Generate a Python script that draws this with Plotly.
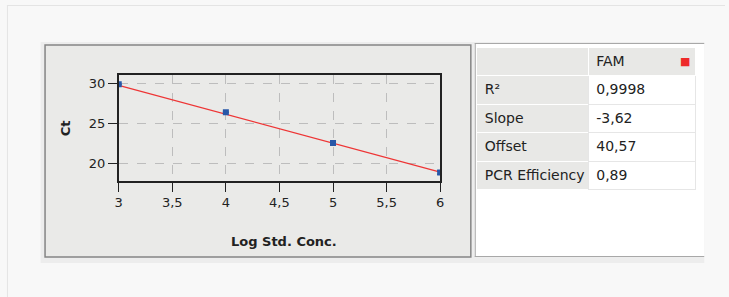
import plotly.graph_objects as go

W, H = 729, 297

# ---- data ----
log_conc = [3, 4, 5, 6]
ct_values = [29.85, 26.33, 22.5, 18.8]
ct_err = [0.0, 0.0, 0.18, 0.22]
fit_x = [3, 6]
fit_y = [29.71, 18.85]

x_tickvals = [3, 3.5, 4, 4.5, 5, 5.5, 6]
x_ticktext = ["3", "3,5", "4", "4,5", "5", "5,5", "6"]
y_tickvals = [20, 25, 30]
y_ticktext = ["20", "25", "30"]

row_labels = ["R²", "Slope", "Offset", "PCR\u00a0Efficiency"]
fam_values = ["0,9998", "-3,62", "40,57", "0,89"]
series_name = "FAM"

FONT = "DejaVu Sans"
FS = 13
FS_TABLE = 14


def px(x):
    return x / W


def py(y):
    return 1 - y / H


fig = go.Figure()

fig.add_trace(go.Scatter(
    x=fit_x, y=fit_y, mode="lines",
    line=dict(color="#ee3535", width=1.2),
    hoverinfo="skip", showlegend=False, cliponaxis=True,
))
fig.add_trace(go.Scatter(
    x=log_conc, y=ct_values, mode="markers",
    marker=dict(symbol="square", size=6, color="#2757a8"),
    error_y=dict(type="data", array=ct_err, visible=True, color="#2757a8", thickness=1.5, width=3),
    showlegend=False, cliponaxis=True,
))

fig.add_trace(go.Table(
    domain=dict(x=[px(478), px(700)], y=[py(250), py(47)]),
    columnwidth=[113, 109],
    header=dict(
        values=["", series_name],
        fill_color="#e8e8e6",
        line=dict(color="#ffffff", width=1),
        align="left",
        height=28.5,
        font=dict(family=FONT, size=FS_TABLE, color="#222222"),
    ),
    cells=dict(
        values=[row_labels, fam_values],
        fill_color=[["#e8e8e6"] * 4, ["#ffffff"] * 4],
        line=dict(color=[["#ffffff"] * 4, ["#e6e6e6"] * 4], width=1),
        align="left",
        height=28.5,
        font=dict(family=FONT, size=FS_TABLE, color="#222222"),
    ),
))

P = dict(xref="paper", yref="paper")
shapes = [
    # outer frame lines
    dict(type="line", x0=px(3.5), x1=px(3.5), y0=py(5), y1=py(297), line=dict(color="#e4e4e4", width=1), **P),
    dict(type="line", x0=px(3), x1=px(729), y0=py(5.5), y1=py(5.5), line=dict(color="#e4e4e4", width=1), **P),
    # container band
    dict(type="rect", x0=px(37), x1=px(708), y0=py(42), y1=py(263), fillcolor="#ededed",
         line=dict(width=0), layer="below", **P),
    # chart panel
    dict(type="rect", x0=px(41.5), x1=px(472), y0=py(45), y1=py(257), fillcolor="#eaeae8",
         line=dict(color="#858585", width=1.5), layer="below", **P),
    # table panel
    dict(type="rect", x0=px(476), x1=px(708), y0=py(43), y1=py(257), fillcolor="#ffffff",
         line=dict(width=0), layer="below", **P),
    dict(type="line", x0=px(476), x1=px(708), y0=py(43.5), y1=py(43.5), line=dict(color="#a8a8a8", width=1), **P),
    dict(type="line", x0=px(476.5), x1=px(476.5), y0=py(43), y1=py(257), line=dict(color="#a8a8a8", width=1), **P),
    dict(type="line", x0=px(476), x1=px(708), y0=py(256.5), y1=py(256.5), line=dict(color="#a8a8a8", width=1), **P),
]

annotations = [
    dict(text="<b>Ct</b>", x=px(62), y=py(128), xref="paper", yref="paper", textangle=-90,
         showarrow=False, font=dict(family=FONT, size=FS, color="#222222"), xanchor="center", yanchor="middle"),
    dict(text="<b>Log Std. Conc.</b>", x=px(283), y=py(241), xref="paper", yref="paper",
         showarrow=False, font=dict(family=FONT, size=FS, color="#222222"), xanchor="center", yanchor="middle"),
    # FAM colour swatch
    dict(text="■", x=px(689), y=py(61), xref="paper", yref="paper", showarrow=False,
         font=dict(family=FONT, size=11, color="#ee2a2a"), xanchor="center", yanchor="middle"),
]

fig.update_layout(
    width=W, height=H,
    margin=dict(l=0, r=0, t=0, b=0),
    paper_bgcolor="#f8f8f8",
    plot_bgcolor="#ffffff",
    separators=",.",
    font=dict(family=FONT, size=FS, color="#222222"),
    shapes=shapes,
    annotations=annotations,
    xaxis=dict(
        domain=[px(116), px(441)], range=[3, 6],
        tickvals=x_tickvals, ticktext=x_ticktext,
        ticks="outside", ticklen=9, tickcolor="#222222", tickwidth=1,
        showline=True, mirror=True, linecolor="#222222", linewidth=1.5,
        showgrid=True, gridcolor="#bdbdbd", griddash="dash", gridwidth=1,
        zeroline=False, fixedrange=True,
    ),
    yaxis=dict(
        domain=[py(181), py(75)], range=[17.75, 31],
        tickvals=y_tickvals, ticktext=y_ticktext,
        ticks="outside", ticklen=9, tickcolor="#222222", tickwidth=1,
        showline=True, mirror=True, linecolor="#222222", linewidth=1.5,
        showgrid=True, gridcolor="#bdbdbd", griddash="dash", gridwidth=1,
        zeroline=False, fixedrange=True,
    ),
)

fig.write_html(
    "out.html",
    config={"displayModeBar": False},
    post_script="document.body.style.margin='0';document.body.style.background='#f8f8f8';",
)
